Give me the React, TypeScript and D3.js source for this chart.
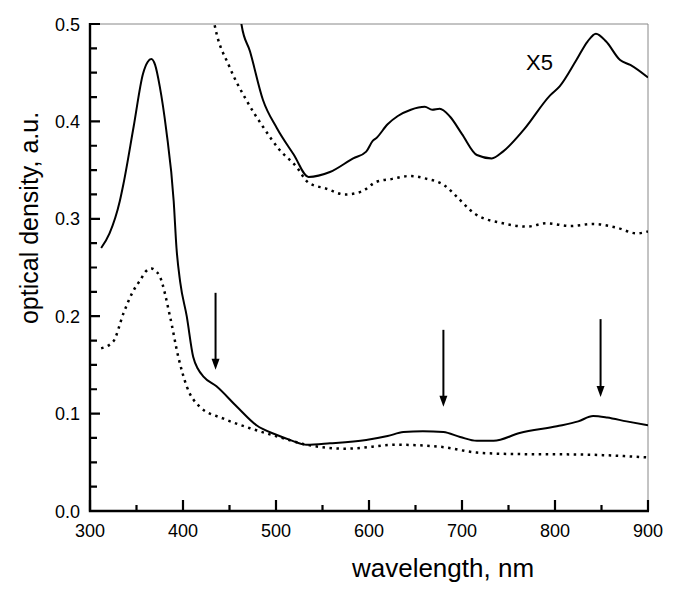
import React from "react";
import * as d3 from "d3";

const solidMain: [number, number][] = [
  [312, 0.27], [321, 0.285], [332, 0.318], [336, 0.336], [347, 0.395], [357, 0.449], [362, 0.461],
  [366, 0.464], [370, 0.458], [375, 0.436], [382, 0.391], [390, 0.318], [393, 0.27], [397, 0.235],
  [404, 0.2], [411, 0.158], [416, 0.146], [422, 0.138], [436, 0.128], [458, 0.107], [479, 0.088],
  [501, 0.078], [515, 0.073], [533, 0.068], [558, 0.0695], [597, 0.073], [620, 0.077], [637, 0.081],
  [658, 0.082], [680, 0.081], [698, 0.076], [716, 0.072], [734, 0.072], [762, 0.08], [802, 0.087],
  [825, 0.092], [841, 0.0975], [856, 0.096], [877, 0.092], [900, 0.088],
];

const dottedMain: [number, number][] = [
  [312, 0.167], [325, 0.174], [336, 0.203], [346, 0.225], [354, 0.237], [360, 0.246], [366, 0.249],
  [370, 0.247], [375, 0.241], [386, 0.2], [395, 0.158], [404, 0.128], [418, 0.107], [443, 0.095],
  [472, 0.085], [508, 0.0746], [533, 0.068], [576, 0.064], [630, 0.068], [676, 0.066], [716, 0.06],
  [755, 0.0585], [827, 0.058], [900, 0.055],
];

const solidX5: [number, number][] = [
  [460, 0.52], [463, 0.499], [472, 0.472], [486, 0.422], [501, 0.393], [519, 0.366], [535, 0.343],
  [558, 0.348], [583, 0.362], [597, 0.369], [604, 0.38], [608, 0.383], [620, 0.397], [631, 0.4055],
  [645, 0.412], [660, 0.415], [668, 0.412], [676, 0.413], [687, 0.405], [700, 0.387], [716, 0.3655],
  [732, 0.362], [744, 0.369], [766, 0.391], [795, 0.427], [805, 0.436], [823, 0.463], [835, 0.482],
  [844, 0.49], [855, 0.482], [870, 0.463], [881, 0.458], [900, 0.445],
];

const dottedX5: [number, number][] = [
  [430, 0.52], [434, 0.499], [450, 0.456], [468, 0.422], [486, 0.3945], [504, 0.3706], [522, 0.3535],
  [535, 0.337], [554, 0.331], [574, 0.325], [592, 0.328], [608, 0.338], [625, 0.341], [644, 0.344],
  [660, 0.3415], [682, 0.3337], [694, 0.323], [714, 0.305], [744, 0.2954], [770, 0.292], [791, 0.2954],
  [816, 0.2926], [841, 0.2947], [866, 0.291], [888, 0.285], [900, 0.287],
];

// arrows: [wavelength, top value, tip value]
const arrows: [number, number, number][] = [
  [435, 0.224, 0.145],
  [680, 0.186, 0.107],
  [849, 0.197, 0.117],
];

const xTicks = [300, 400, 500, 600, 700, 800, 900];
const xMinor = [350, 450, 550, 650, 750, 850];
const yTicks = [0, 0.1, 0.2, 0.3, 0.4, 0.5];
const yMinor = [0.025, 0.05, 0.075, 0.125, 0.15, 0.175, 0.225, 0.25, 0.275, 0.325, 0.35, 0.375, 0.425, 0.45, 0.475];

const W = 685, H = 594;
const L = 90, R = 648, T = 24, B = 511;

export default function App() {
  const x = d3.scaleLinear().domain([300, 900]).range([L, R]);
  const y = d3.scaleLinear().domain([0, 0.5]).range([B, T]);
  const line = d3
    .line<[number, number]>()
    .x((d) => x(d[0]))
    .y((d) => y(d[1]))
    .curve(d3.curveMonotoneX);
  const font = "'Liberation Sans', Arial, sans-serif";

  const tickPath =
    xTicks.map((t) => `M${x(t)},${B}V${B - 11}`).join("") +
    xMinor.map((t) => `M${x(t)},${B}V${B - 6}`).join("") +
    yTicks.map((t) => `M${L},${y(t)}H${L + 10}`).join("") +
    yMinor.map((t) => `M${L},${y(t)}H${L + 7}`).join("");

  return (
    <svg width={W} height={H} style={{ position: "absolute", left: 0, top: 0, display: "block", background: "#fff" }} fontFamily={font}>
      <defs>
        <clipPath id="plot">
          <rect x={L} y={T} width={R - L} height={B - T} />
        </clipPath>
      </defs>
      {/* frame */}
      <line x1={L} y1={T} x2={R} y2={T} stroke="#888" strokeWidth={1} />
      <line x1={R} y1={T} x2={R} y2={B} stroke="#888" strokeWidth={1} />
      <g clipPath="url(#plot)" fill="none" stroke="#000">
        <path d={line(solidMain) || ""} strokeWidth={2} />
        <path d={line(dottedMain) || ""} strokeWidth={2.5} strokeDasharray="2.5,4.5" />
        <path d={line(solidX5) || ""} strokeWidth={2} />
        <path d={line(dottedX5) || ""} strokeWidth={2.5} strokeDasharray="2.5,4.5" />
      </g>
      {/* axes */}
      <path d={`M${L},${T - 1}V${B}H${R + 1}`} fill="none" stroke="#000" strokeWidth={2.4} />
      <path d={tickPath} fill="none" stroke="#000" strokeWidth={2.2} />
      {xTicks.map((t) => (
        <text key={"xl" + t} x={x(t)} y={537} textAnchor="middle" fontSize={18}>
          {t}
        </text>
      ))}
      {yTicks.map((t) => (
        <text key={"yl" + t} x={80} y={y(t) + 6.5} textAnchor="end" fontSize={18}>
          {t.toFixed(1)}
        </text>
      ))}
      {/* arrows */}
      {arrows.map(([w, top, tip], i) => {
        const ax = x(w);
        const yt = y(top);
        const yp = y(tip);
        return (
          <g key={"ar" + i}>
            <line x1={ax} x2={ax} y1={yt} y2={yp - 8} stroke="#000" strokeWidth={2} />
            <path d={`M${ax - 4},${yp - 11} L${ax + 4},${yp - 11} L${ax},${yp} Z`} fill="#000" />
          </g>
        );
      })}
      <text x={526} y={70} fontSize={22}>
        X5
      </text>
      <text x={443} y={577} textAnchor="middle" fontSize={26}>
        wavelength, nm
      </text>
      <text transform="translate(38,218) rotate(-90)" textAnchor="middle" fontSize={25}>
        optical density, a.u.
      </text>
    </svg>
  );
}
